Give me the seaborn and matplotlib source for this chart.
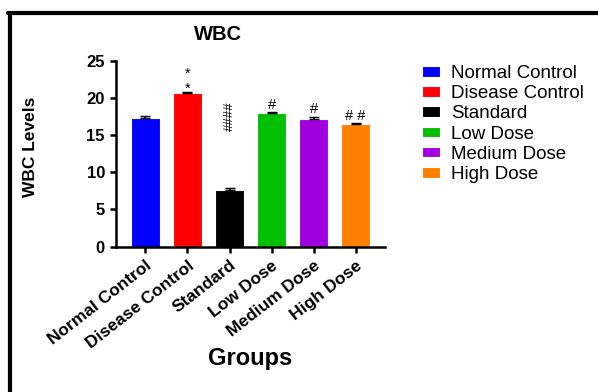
import matplotlib
matplotlib.use("Agg")
import matplotlib.pyplot as plt
import seaborn as sns
from matplotlib.lines import Line2D

# données
groups = ["Normal Control", "Disease Control", "Standard", "Low Dose", "Medium Dose", "High Dose"]
wbc = [17.4, 20.7, 7.6, 18.0, 17.25, 16.5]
sem = [0.15, 0.1, 0.3, 0.1, 0.2, 0.1]
marks = ["", "*\n*", "", "#", "#", "# #"]
colors = ["#0000ff", "#ff0000", "#000000", "#00c000", "#a000e0", "#ff8000"]

sns.set_style("ticks")
plt.rcParams['font.family'] = ['Liberation Sans', 'DejaVu Sans']
plt.rcParams['text.color'] = 'black'
plt.rcParams['axes.labelcolor'] = 'black'
plt.rcParams['xtick.color'] = 'black'
plt.rcParams['ytick.color'] = 'black'
plt.rcParams['axes.edgecolor'] = 'black'

fig = plt.figure(figsize=(5.98, 3.92), dpi=100)
ax = fig.add_axes([0.194, 0.371, 0.45, 0.473])

sns.barplot(x=groups, y=wbc, hue=groups, palette=colors, width=0.68, saturation=1,
            errorbar=None, legend=True, ax=ax, linewidth=0.8)
ax.errorbar(range(len(groups)), wbc, yerr=[[0] * len(sem), sem], fmt='none',
            ecolor='black', elinewidth=1.2, capsize=3.5)

# annotations
for i, m in enumerate(marks):
    if m:
        off = -0.5 if "*" in m else 0.1
        ax.text(i, wbc[i] + sem[i] + off, m, ha='center', va='bottom',
                fontsize=10.5, linespacing=1.15)
ax.text(2, wbc[2] + 8, "####", rotation=90, ha='center', va='bottom',
        fontsize=9.5)

ax.set_ylim(0, 25)
ax.set_xlim(-0.7, 5.7)
ax.set_yticks([0, 5, 10, 15, 20, 25])
ax.set_title("WBC", fontsize=14.5, fontweight='bold', x=0.38, pad=15)
ax.set_ylabel("WBC Levels", fontsize=12.5, fontweight='bold')
ax.yaxis.set_label_coords(-0.29, 0.54)
ax.set_xlabel("Groups", fontsize=17, fontweight='bold', labelpad=-3)
ax.tick_params(axis='both', width=1.8, length=4.5, labelsize=12)
for lab in ax.get_yticklabels():
    lab.set_fontweight('bold')
plt.setp(ax.get_xticklabels(), rotation=38, ha='right', rotation_mode='anchor',
         fontweight='bold', fontsize=12.5)
sns.despine(ax=ax)
for s in ["left", "bottom"]:
    ax.spines[s].set_linewidth(1.8)

leg = ax.legend(loc='upper left', bbox_to_anchor=(1.075, 1.07), frameon=False,
                fontsize=13.5, handlelength=0.95, handleheight=0.5,
                labelspacing=0.17, handletextpad=0.6)

# cadre
fig.add_artist(Line2D([0.016, 0.016], [0, 0.967], color='black', lw=3,
                      transform=fig.transFigure))
fig.add_artist(Line2D([0.014, 1], [0.967, 0.967], color='black', lw=3,
                      transform=fig.transFigure))

fig.savefig("out.png", dpi=100)
